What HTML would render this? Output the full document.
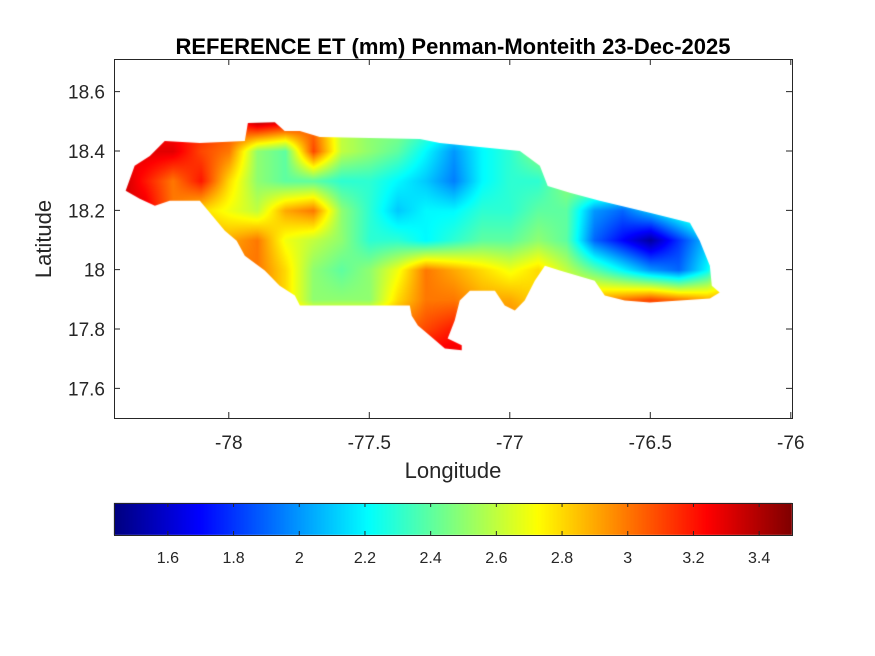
<!DOCTYPE html>
<html><head><meta charset="utf-8">
<style>
body{margin:0;background:#fff;width:875px;height:656px;overflow:hidden;font-family:"Liberation Sans",sans-serif;}
#wrap{position:relative;width:875px;height:656px;}
canvas,svg{position:absolute;left:0;top:0;}
</style></head><body>
<div id="wrap">
<canvas id="cv" width="875" height="656"></canvas>
<svg id="sv" width="875" height="656"></svg>
</div>
<script>
// grid data
const gridLons = [-78.4,-78.3,-78.2,-78.1,-78.0,-77.9,-77.8,-77.7,-77.6,-77.5,-77.4,-77.3,-77.2,-77.1,-77.0,-76.9,-76.8,-76.7,-76.6,-76.5,-76.4,-76.3,-76.2];
const gridLats = [18.5,18.4,18.3,18.2,18.1,18.0,17.9,17.8,17.7];
const etRow185 = [3.2,3.2,3.2,3.2,3.1,3.4,3.3,3.0,2.6,2.5,2.5,2.4,2.3,2.3,2.4,2.5,2.5,2.5,2.5,2.5,2.5,2.5,2.5];
const etRow184 = [3.2,3.3,3.3,3.1,3.0,2.5,2.4,3.1,2.6,2.5,2.4,2.2,2.0,2.2,2.3,2.5,2.5,2.5,2.5,2.5,2.5,2.5,2.5];
const etRow183 = [3.4,3.2,3.0,3.2,2.8,2.5,2.4,2.4,2.3,2.3,2.2,2.1,1.95,2.2,2.3,2.3,2.5,2.6,2.5,2.5,2.5,2.5,2.5];
const etRow182 = [3.3,3.3,3.0,2.8,2.7,2.6,2.9,3.0,2.5,2.3,2.1,2.2,2.2,2.3,2.3,2.4,2.4,2.0,1.9,2.1,2.3,2.5,2.6];
const etRow181 = [3.0,3.0,3.0,2.9,2.9,3.0,2.7,2.6,2.5,2.3,2.3,2.2,2.3,2.4,2.4,2.5,2.4,1.9,1.7,1.5,1.8,2.1,2.5];
const etRow180 = [3.0,3.0,3.0,3.0,3.0,3.0,2.8,2.5,2.4,2.5,2.7,3.0,2.9,2.8,2.7,2.8,2.6,2.4,2.2,2.0,1.9,2.2,2.8];
const etRow179 = [3.0,3.0,3.0,3.0,3.0,3.0,2.8,2.5,2.5,2.5,2.8,3.0,3.0,2.9,2.9,2.8,2.7,2.9,3.0,3.1,3.0,2.9,2.9];
const etRow178 = [3.0,3.0,3.0,3.0,3.0,3.0,3.0,3.0,3.0,3.0,3.0,3.1,3.2,3.0,3.0,3.0,3.0,3.0,3.0,3.0,3.0,3.0,3.0];
const etRow177 = [3.3,3.3,3.3,3.3,3.3,3.3,3.3,3.3,3.3,3.3,3.3,3.3,3.3,3.3,3.3,3.3,3.3,3.3,3.3,3.3,3.3,3.3,3.3];
const etRows = [etRow185,etRow184,etRow183,etRow182,etRow181,etRow180,etRow179,etRow178,etRow177];
// coastline (lon, lat)
const coastLon = [-78.367,-78.335,-78.281,-78.228,-78.103,-77.943,-77.932,-77.836,-77.801,-77.747,-77.676,-77.320,-77.249,-77.036,-76.964,-76.893,-76.865,-76.786,-76.680,-76.502,-76.359,-76.324,-76.288,-76.281,-76.253,-76.288,-76.395,-76.502,-76.591,-76.662,-76.698,-76.822,-76.875,-76.911,-76.947,-76.982,-77.018,-77.053,-77.142,-77.178,-77.196,-77.221,-77.171,-77.171,-77.231,-77.285,-77.327,-77.349,-77.356,-77.747,-77.765,-77.819,-77.872,-77.943,-77.972,-78.014,-78.103,-78.210,-78.263,-78.317];
const coastLat = [18.266,18.350,18.383,18.434,18.427,18.434,18.494,18.497,18.467,18.467,18.447,18.440,18.427,18.407,18.400,18.350,18.282,18.259,18.232,18.192,18.158,18.097,18.013,17.946,17.923,17.903,17.896,17.889,17.896,17.913,17.963,17.997,18.013,17.963,17.896,17.862,17.879,17.929,17.929,17.896,17.829,17.768,17.745,17.728,17.734,17.778,17.812,17.845,17.879,17.879,17.913,17.946,17.997,18.047,18.097,18.131,18.232,18.232,18.215,18.239];
const xTicks = [-78,-77.5,-77,-76.5,-76];
const xTickLabels = ["-78","-77.5","-77","-76.5","-76"];
const yTicks = [17.6,17.8,18,18.2,18.4,18.6];
const yTickLabels = ["17.6","17.8","18","18.2","18.4","18.6"];
const cbTicks = [1.6,1.8,2,2.2,2.4,2.6,2.8,3,3.2,3.4];
const cbTickLabels = ["1.6","1.8","2","2.2","2.4","2.6","2.8","3","3.2","3.4"];

const AX={l:114,r:792,t:59,b:418}, LON0=-78.4085, LON1=-75.9957, LAT0=17.5, LAT1=18.71;
const CB={l:114,r:792,t:503,b:535}, V0=1.436, V1=3.50;
const xs=lon=>AX.l+(lon-LON0)/(LON1-LON0)*(AX.r-AX.l);
const ys=lat=>AX.b-(lat-LAT0)/(LAT1-LAT0)*(AX.b-AX.t);
const cx=v=>CB.l+(v-V0)/(V1-V0)*(CB.r-CB.l);
function jet(t){t=Math.max(0,Math.min(1,t));
 const f=(a)=>Math.max(0,Math.min(1,1.5-Math.abs(4*t-a)));
 return [f(3)*255,f(2)*255,f(1)*255];}
const cv=document.getElementById('cv'),ctx=cv.getContext('2d');
function val(lon,lat){
 const fi=(lon-gridLons[0])/(gridLons[1]-gridLons[0]);
 const fj=(gridLats[0]-lat)/(gridLats[0]-gridLats[1]);
 const i=Math.max(0,Math.min(gridLons.length-2,Math.floor(fi))), j=Math.max(0,Math.min(gridLats.length-2,Math.floor(fj)));
 const a=Math.max(0,Math.min(1,fi-i)), b=Math.max(0,Math.min(1,fj-j));
 return (etRows[j][i]*(1-a)+etRows[j][i+1]*a)*(1-b)+(etRows[j+1][i]*(1-a)+etRows[j+1][i+1]*a)*b;}
ctx.save();ctx.beginPath();
coastLon.forEach((lo,k)=>{const X=xs(lo),Y=ys(coastLat[k]);k?ctx.lineTo(X,Y):ctx.moveTo(X,Y);});
ctx.closePath();ctx.clip();
const img=ctx.createImageData(AX.r-AX.l,AX.b-AX.t);
for(let py=0;py<img.height;py++)for(let px=0;px<img.width;px++){
 const X=AX.l+px,Y=AX.t+py;
 const lon=LON0+(X-AX.l)/(AX.r-AX.l)*(LON1-LON0), lat=LAT0+(AX.b-Y)/(AX.b-AX.t)*(LAT1-LAT0);
 const c=jet((val(lon,lat)-V0)/(V1-V0));const o=(py*img.width+px)*4;
 img.data[o]=c[0];img.data[o+1]=c[1];img.data[o+2]=c[2];img.data[o+3]=255;}
const tmp=document.createElement('canvas');tmp.width=img.width;tmp.height=img.height;tmp.getContext('2d').putImageData(img,0,0);
ctx.drawImage(tmp,AX.l,AX.t);ctx.restore();
// colorbar
for(let X=CB.l;X<CB.r;X++){const c=jet((X+0.5-CB.l)/(CB.r-CB.l));ctx.fillStyle=`rgb(${c[0]|0},${c[1]|0},${c[2]|0})`;ctx.fillRect(X,CB.t,1,CB.b-CB.t);}
// svg overlay
const sv=document.getElementById('sv'),NS='http://www.w3.org/2000/svg';
function mk(tag,at,txt){const e=document.createElementNS(NS,tag);for(const k in at)e.setAttribute(k,at[k]);if(txt!=null)e.textContent=txt;sv.appendChild(e);return e;}
let e=mk('rect',{x:AX.l+.5,y:AX.t+.5,width:AX.r-AX.l,height:AX.b-AX.t,fill:'none',stroke:'#262626','stroke-width':1});


xTicks.forEach((t,k)=>{const X=xs(t);
 let l=mk('path',{d:`M${X} ${AX.b}v-6M${X} ${AX.t}v6`,stroke:'#262626'});
 
 
 let tx=mk('text',{x:X,y:AX.b+31,'text-anchor':'middle','font-size':19,fill:'#262626'},xTickLabels[k]);
 
 });
yTicks.forEach((t,k)=>{const Y=ys(t);
 let l=mk('path',{d:`M${AX.l} ${Y}h6M${AX.r} ${Y}h-6`,stroke:'#262626'});
 
 
 let tx=mk('text',{x:AX.l-9,y:Y+7,'text-anchor':'end','font-size':19,fill:'#262626'},yTickLabels[k]);
 
 });
e=mk('rect',{x:CB.l+.5,y:CB.t+.5,width:CB.r-CB.l,height:CB.b-CB.t,fill:'none',stroke:'#262626'});


cbTicks.forEach((t,k)=>{const X=cx(t);
 let l=mk('path',{d:`M${X} ${CB.b}v-4M${X} ${CB.t}v4`,stroke:'#262626'});
 
 
 let tx=mk('text',{x:X,y:CB.b+28,'text-anchor':'middle','font-size':16,fill:'#262626'},cbTickLabels[k]);
 
 });
e=mk('text',{x:453,y:54,'text-anchor':'middle','font-size':22,'font-weight':'bold',fill:'#000'},'REFERENCE ET (mm) Penman-Monteith 23-Dec-2025');


e=mk('text',{x:453,y:478,'text-anchor':'middle','font-size':22,fill:'#262626'},'Longitude');


e=mk('text',{x:51,y:239,'text-anchor':'middle','font-size':22,fill:'#262626',transform:'rotate(-90 51 239)'},'Latitude');


</script>
</body></html>
